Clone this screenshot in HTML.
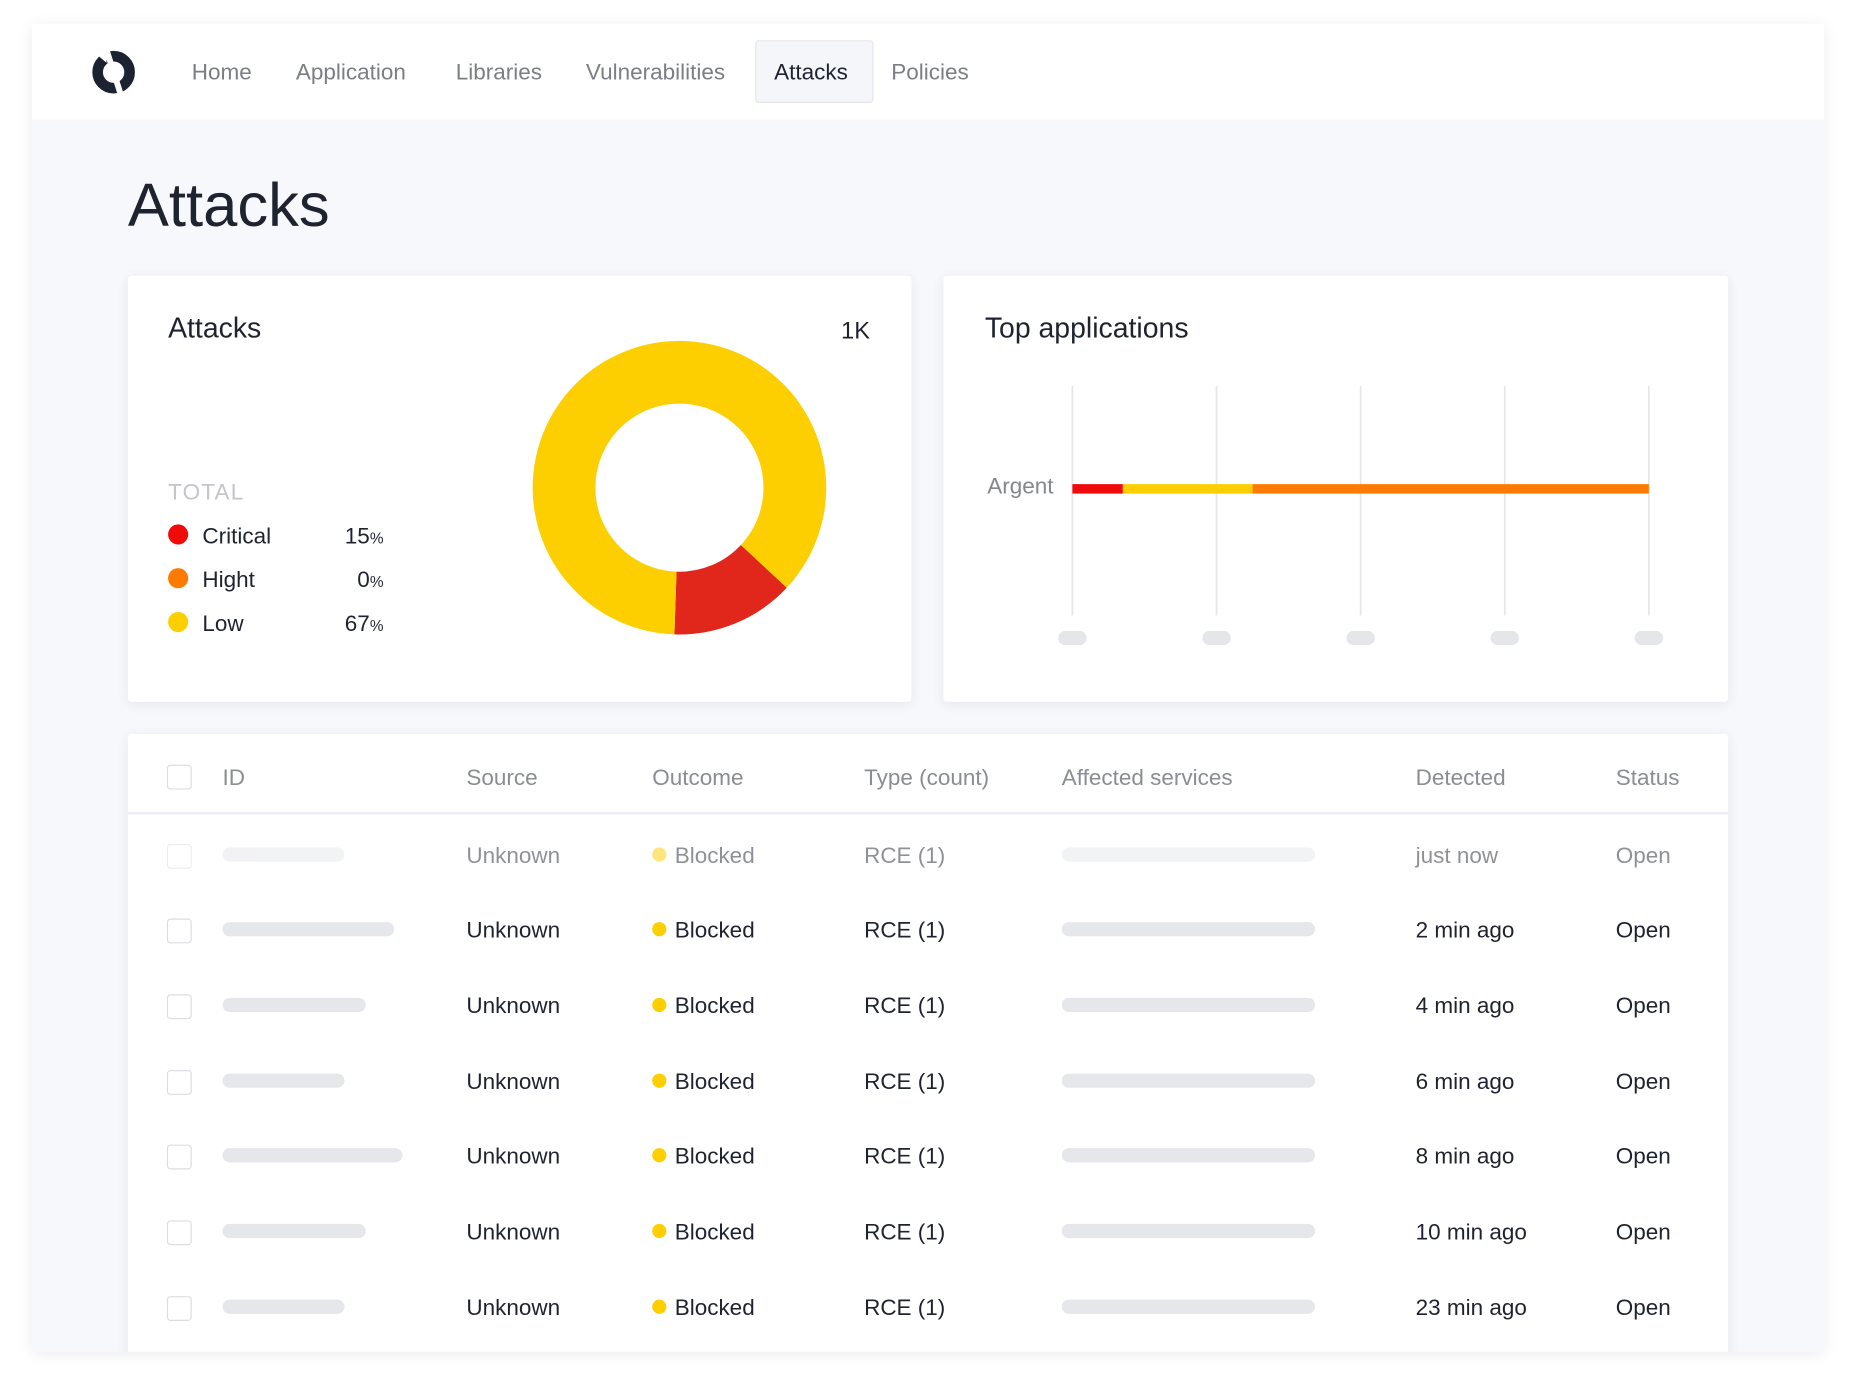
<!DOCTYPE html>
<html><head><meta charset="utf-8"><style>
html,body{margin:0;padding:0;background:#fff;width:1856px;height:1392px;overflow:hidden;font-family:"Liberation Sans",sans-serif}
#wrap{position:absolute;left:0;top:0;width:1568px;height:1176px;transform:scale(1.18367);transform-origin:0 0}
.abs{position:absolute}
#frame{left:27px;top:20px;width:1514px;height:1122px;background:#f7f8fb;box-shadow:0 2px 12px rgba(0,0,0,.08);overflow:hidden}
#nav{left:0;top:0;width:1514px;height:81px;background:#fff}
.nav-item{position:absolute;top:31px;font-size:19px;color:#7b7e85}
.card{background:#fff;box-shadow:0 2px 10px rgba(30,40,60,.08);border-radius:3px}
.t{position:absolute;white-space:nowrap}
.hdr{font-size:19px;color:#8a8d94;top:27px}
.cell{font-size:19px;color:#1f2330}
.cb{position:absolute;width:19px;height:19px;border:1.5px solid #dcdde2;border-radius:3px;background:#fff}
.pill{position:absolute;height:12px;border-radius:6px;background:#e6e7eb}
</style></head><body>
<div id="wrap">
<div id="frame" class="abs">
  <div id="nav" class="abs">
    <svg class="abs" style="left:49px;top:19px" width="40" height="44" viewBox="0 0 40 44">
      <circle cx="20" cy="22" r="13.5" fill="none" stroke="#1c2230" stroke-width="9"/>
      <path d="M13 0 L27 44" stroke="#fff" stroke-width="5"/>
      <path d="M2 4 L14 4 L14 14 Z" fill="#fff"/>
    </svg>
    <div class="nav-item" style="left:135px">Home</div>
    <div class="nav-item" style="left:223px">Application</div>
    <div class="nav-item" style="left:358px">Libraries</div>
    <div class="nav-item" style="left:468px">Vulnerabilities</div>
    <div class="abs" style="left:611px;top:14px;width:98px;height:51px;background:#f5f6fa;border:1px solid #e3e5ea;border-radius:3px"></div>
    <div class="nav-item" style="left:627px;color:#1f2330">Attacks</div>
    <div class="nav-item" style="left:726px">Policies</div>
  </div>
  <div class="t" style="left:81px;top:124px;font-size:52px;color:#1f2330">Attacks</div>

  <div class="abs card" style="left:81px;top:213px;width:662px;height:360px">
    <div class="t" style="left:34px;top:31px;font-size:24px;color:#1f2330">Attacks</div>
    <div class="t" style="right:35px;top:36px;font-size:20px;color:#1f2330">1K</div>
    <div class="t" style="left:34px;top:173px;font-size:19px;color:#c4c5c9;letter-spacing:1px">TOTAL</div>
    <div id="legend"></div>
    <svg id="donut" class="abs" style="left:0;top:0" width="662" height="360"></svg>
  </div>

  <div class="abs card" style="left:770px;top:213px;width:663px;height:360px">
    <div class="t" style="left:35px;top:31px;font-size:24px;color:#1f2330">Top applications</div>
    <svg id="bars" class="abs" style="left:0;top:0" width="663" height="360"></svg>
  </div>

  <div class="abs card" style="left:81px;top:600px;width:1352px;height:560px">
    <div class="cb" style="left:33px;top:26px"></div>
    <div class="t hdr" style="left:80px">ID</div>
    <div class="t hdr" style="left:286px">Source</div>
    <div class="t hdr" style="left:443px">Outcome</div>
    <div class="t hdr" style="left:622px">Type (count)</div>
    <div class="t hdr" style="left:789px">Affected services</div>
    <div class="t hdr" style="left:1088px">Detected</div>
    <div class="t hdr" style="left:1257px">Status</div>
    <div class="abs" style="left:0;top:66px;width:1352px;height:2px;background:#eceef1"></div>
    <div id="rows"></div>
  </div>
</div>
</div>
<script>
const NS='http://www.w3.org/2000/svg';
// Donut data
const severityLabels=['Critical','Hight','Low'];
const severityPercents=['15','0','67'];
const severityColors=['#f00a0a','#ff7a00','#fdcf00'];
const sliceValues=[13.6,0,86.4];
const sliceColors=['#e1261c','#ff7a00','#fdcf00'];
const donutStart=133;

const legend=document.getElementById('legend');
severityLabels.forEach((l,i)=>{
  const y=219+i*37;
  const row=document.createElement('div');
  
  
  row.innerHTML=`<div class="abs" style="left:34px;top:${y-9}px;width:17px;height:17px;border-radius:50%;background:${severityColors[i]}"></div>
  <div class="t" style="left:63px;top:${y-9}px;font-size:19px;color:#1f2330">${l}</div>
  <div class="t" style="right:446px;top:${y-9}px;font-size:19px;color:#1f2330">${severityPercents[i]}<span style="font-size:13px">%</span></div>`;
  legend.appendChild(row);
});
const donut=document.getElementById('donut');
const cx=466,cy=179,R=124,r=71;
const tot=sliceValues.reduce((a,b)=>a+b,0);
let ang=donutStart;
function pt(a,rad){const t=(a-90)*Math.PI/180;return [cx+rad*Math.cos(t),cy+rad*Math.sin(t)];}
sliceValues.forEach((v,i)=>{
  if(v<=0)return;
  const a0=ang,a1=ang+v/tot*360;ang=a1;
  const large=(a1-a0)>180?1:0;
  const [x0,y0]=pt(a0,R),[x1,y1]=pt(a1,R),[x2,y2]=pt(a1,r),[x3,y3]=pt(a0,r);
  const p=document.createElementNS(NS,'path');
  p.setAttribute('d',`M${x0} ${y0} A${R} ${R} 0 ${large} 1 ${x1} ${y1} L${x2} ${y2} A${r} ${r} 0 ${large} 0 ${x3} ${y3}Z`);
  p.setAttribute('fill',sliceColors[i]);
  
  
  donut.appendChild(p);
});

// Bar chart data
const appCategories=['Argent'];
const criticalValues=[0.35];
const lowValues=[0.9];
const highValues=[2.75];
const xTicks=[0,1,2,3,4];
const bars=document.getElementById('bars');
const x0=109,xUnit=121.75,gridTop=93,gridBot=287;
const xs=v=>x0+v*xUnit;
xTicks.forEach(t=>{
  const l=document.createElementNS(NS,'line');
  l.setAttribute('x1',xs(t));l.setAttribute('x2',xs(t));l.setAttribute('y1',gridTop);l.setAttribute('y2',gridBot);
  l.setAttribute('stroke','#e6e7ea');l.setAttribute('stroke-width','1.5');
  
  
  bars.appendChild(l);
  const p=document.createElementNS(NS,'rect');
  p.setAttribute('x',xs(t)-12);p.setAttribute('y',300);p.setAttribute('width',24);p.setAttribute('height',12);p.setAttribute('rx',6);
  p.setAttribute('fill','#e5e6ea');
  
  
  bars.appendChild(p);
});
appCategories.forEach((c,i)=>{
  const y=179+i*40;
  const tx=document.createElementNS(NS,'text');
  tx.setAttribute('x',93);tx.setAttribute('y',y+5);tx.setAttribute('text-anchor','end');
  tx.setAttribute('font-size','19');tx.setAttribute('fill','#84878e');tx.setAttribute('font-family','Liberation Sans, sans-serif');
  tx.textContent=c;
  
  
  bars.appendChild(tx);
  let acc=0;
  [[criticalValues,'#f00a0a','critical'],[lowValues,'#fdcf00','low'],[highValues,'#ff7a00','high']].forEach(([arr,col,nm])=>{
    const rc=document.createElementNS(NS,'rect');
    rc.setAttribute('x',xs(acc));rc.setAttribute('width',xs(acc+arr[i])-xs(acc));
    rc.setAttribute('y',y-3);rc.setAttribute('height',8);rc.setAttribute('fill',col);
    
    
    bars.appendChild(rc);
    acc+=arr[i];
  });
});

// Table rows
const idWidths=[103,145,121,103,152,121,103];
const detected=['just now','2 min ago','4 min ago','6 min ago','8 min ago','10 min ago','23 min ago'];
const rowY=[102,165,229,293,356,420,484];
const rows=document.getElementById('rows');
detected.forEach((d,i)=>{
  const y=rowY[i];
  const row=document.createElement('div');
  row.className='abs';
  row.style.cssText=`left:0;top:0;width:1352px;height:560px;${i===0?'opacity:.5':''}`;
  
  
  row.innerHTML=`<div class="cb" style="left:33px;top:${y-9}px"></div>
  <div class="pill" style="left:80px;top:${y-6}px;width:${idWidths[i]}px"></div>
  <div class="t cell" style="left:286px;top:${y-9}px">Unknown</div>
  <div class="abs" style="left:443px;top:${y-6}px;width:12px;height:12px;border-radius:50%;background:#fdcf00"></div>
  <div class="t cell" style="left:462px;top:${y-9}px">Blocked</div>
  <div class="t cell" style="left:622px;top:${y-9}px">RCE (1)</div>
  <div class="pill" style="left:789px;top:${y-6}px;width:214px"></div>
  <div class="t cell" style="left:1088px;top:${y-9}px">${d}</div>
  <div class="t cell" style="left:1257px;top:${y-9}px">Open</div>`;
  rows.appendChild(row);
});
</script>
</body></html>
